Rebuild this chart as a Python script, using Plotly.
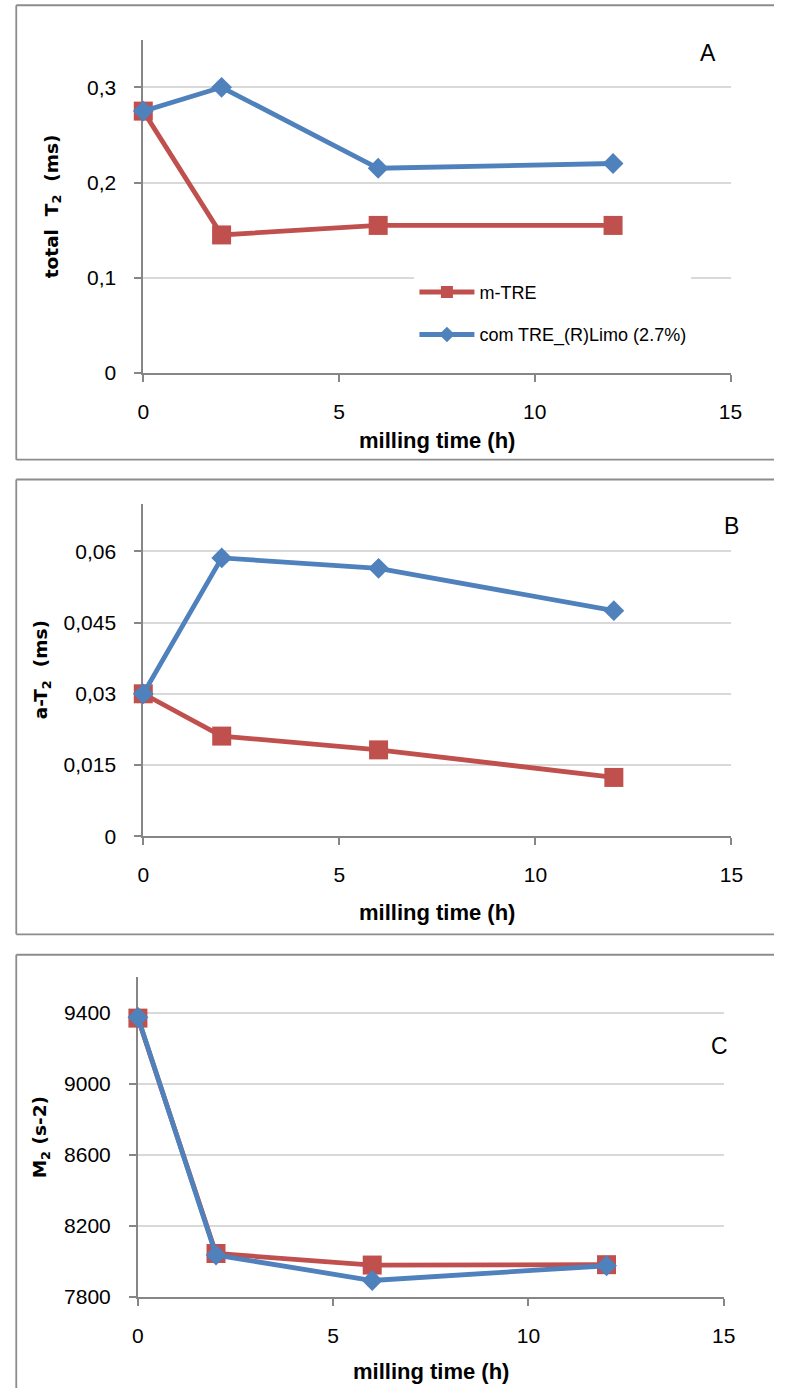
import plotly.graph_objects as go

# ---------------- data ----------------
hours = [0, 2, 6, 12]
series_names = ["m-TRE", "com TRE_(R)Limo (2.7%)"]
total_t2_mtre = [0.275, 0.145, 0.155, 0.155]
total_t2_com = [0.275, 0.300, 0.215, 0.220]
a_t2_mtre = [0.030, 0.0211, 0.0182, 0.0124]
a_t2_com = [0.030, 0.0586, 0.0564, 0.0475]
m2_mtre = [9370, 8045, 7980, 7982]
m2_com = [9375, 8036, 7893, 7976]
panel_labels = ["A", "B", "C"]
y_titles = ["total  T<sub>2</sub>  (ms)", "a-T<sub>2</sub>  (ms)", "M<sub>2</sub> (s-2)"]
x_title = "milling time (h)"

# ---------------- styling ----------------
W, H = 786, 1399
RED = "#C0504D"
BLUE = "#4F81BD"
AXIS = "#868686"
GRID = "#D9D9D9"
BOX = "#8C8C8C"
TICKFONT = dict(family="Liberation Sans, Arial, sans-serif", size=21, color="#000000")
TITLEFONT = dict(family="DejaVu Sans, Verdana, sans-serif", size=18.5, color="#000000")
XTITLEFONT = dict(family="Liberation Sans, Arial, sans-serif", size=22, color="#000000")


def px(x):
    return x / W


def py(y):
    return 1 - y / H


# box: (left, top, bottom or None) -- right edges run off the page
panels = [
    dict(x0=140.5, x1=741.5, y0=40, y1=376, yrange=[0, 0.35], dtick=0.1,
         data=(total_t2_mtre, total_t2_com), box=(10.5, 5.3, 463.3),
         label=(718, 53), ytitle_x=48, xtitle_y=444),
    dict(x0=140.5, x1=742.5, y0=507.7, y1=843, yrange=[0, 0.07], dtick=0.015,
         data=(a_t2_mtre, a_t2_com), box=(10.5, 483.3, 941.7),
         label=(743, 530), ytitle_x=37, xtitle_y=920),
    dict(x0=135, x1=734.5, y0=985, y1=1307.3, yrange=[7800, 9600], dtick=400,
         data=(m2_mtre, m2_com), box=(10.5, 962.3, None),
         label=(730, 1054), ytitle_x=36, xtitle_y=1382),
]

fig = go.Figure()
layout = dict(
    width=W, height=H, margin=dict(l=0, r=0, t=0, b=0),
    paper_bgcolor="white", plot_bgcolor="white",
    separators=", ",
    showlegend=True,
    legend=dict(x=px(418), y=py(276), xanchor="left", yanchor="top",
                bgcolor="white", font=dict(family="Liberation Sans, Arial, sans-serif", size=18, color="#000"),
                traceorder="grouped", tracegroupgap=16, itemwidth=55, itemsizing="constant"),
)
annotations = []
shapes = []

for i, p in enumerate(panels):
    sfx = "" if i == 0 else str(i + 1)
    xa, ya = "x" + sfx, "y" + sfx
    layout["xaxis" + sfx] = dict(
        domain=[px(p["x0"]), px(p["x1"])], anchor=ya, range=[0, 15], dtick=5,
        showline=True, linecolor=AXIS, linewidth=1.8, ticks="outside", ticklen=7,
        tickcolor=AXIS, tickwidth=1.8, showgrid=False, zeroline=False,
        tickfont=TICKFONT, ticklabelstandoff=12, fixedrange=True, layer="below traces")
    layout["yaxis" + sfx] = dict(
        domain=[py(p["y1"]), py(p["y0"])], anchor=xa, range=p["yrange"], dtick=p["dtick"],
        tick0=p["yrange"][0],
        showline=True, linecolor=AXIS, linewidth=1.8, ticks="outside", ticklen=7,
        tickcolor=AXIS, tickwidth=1.8, showgrid=True, gridcolor=GRID, gridwidth=1.8,
        zeroline=False, tickfont=TICKFONT, ticklabelstandoff=14, fixedrange=True,
        layer="below traces")
    red_vals, blue_vals = p["data"]
    fig.add_trace(go.Scatter(
        x=hours, y=red_vals, name=series_names[0], mode="lines+markers",
        line=dict(color=RED, width=4.8), marker=dict(symbol="square", size=19, color=RED),
        xaxis=xa, yaxis=ya, showlegend=(i == 0), legendgroup="g1", cliponaxis=False))
    fig.add_trace(go.Scatter(
        x=hours, y=blue_vals, name=series_names[1], mode="lines+markers",
        line=dict(color=BLUE, width=4.8), marker=dict(symbol="diamond", size=16, color=BLUE),
        xaxis=xa, yaxis=ya, showlegend=(i == 0), legendgroup="g2", cliponaxis=False))

    bx0, by0, by1 = p["box"]
    line_style = dict(color=BOX, width=1.8)
    shapes.append(dict(type="line", xref="paper", yref="paper",
                       x0=px(bx0), x1=1.0, y0=py(by0), y1=py(by0), line=line_style, layer="below"))
    shapes.append(dict(type="line", xref="paper", yref="paper",
                       x0=px(bx0), x1=px(bx0), y0=py(by0),
                       y1=(py(by1) if by1 is not None else 0.0), line=line_style, layer="below"))
    if by1 is not None:
        shapes.append(dict(type="line", xref="paper", yref="paper",
                           x0=px(bx0), x1=1.0, y0=py(by1), y1=py(by1), line=line_style, layer="below"))

    lx, ly = p["label"]
    annotations.append(dict(text=panel_labels[i], xref="paper", yref="paper",
                            x=px(lx), y=py(ly), xanchor="center", yanchor="middle",
                            showarrow=False,
                            font=dict(family="Liberation Sans, Arial, sans-serif", size=23, color="#000")))
    annotations.append(dict(text="<b>" + y_titles[i] + "</b>", xref="paper", yref="paper",
                            x=px(p["ytitle_x"]), y=py((p["y0"] + p["y1"]) / 2),
                            xanchor="center", yanchor="middle", textangle=-90,
                            showarrow=False, font=TITLEFONT))
    annotations.append(dict(text="<b>" + x_title + "</b>", xref="paper", yref="paper",
                            x=px((p["x0"] + p["x1"]) / 2), y=py(p["xtitle_y"]),
                            xanchor="center", yanchor="middle",
                            showarrow=False, font=XTITLEFONT))

layout["annotations"] = annotations
layout["shapes"] = shapes
fig.update_layout(**layout)
fig.write_html("out.html")
